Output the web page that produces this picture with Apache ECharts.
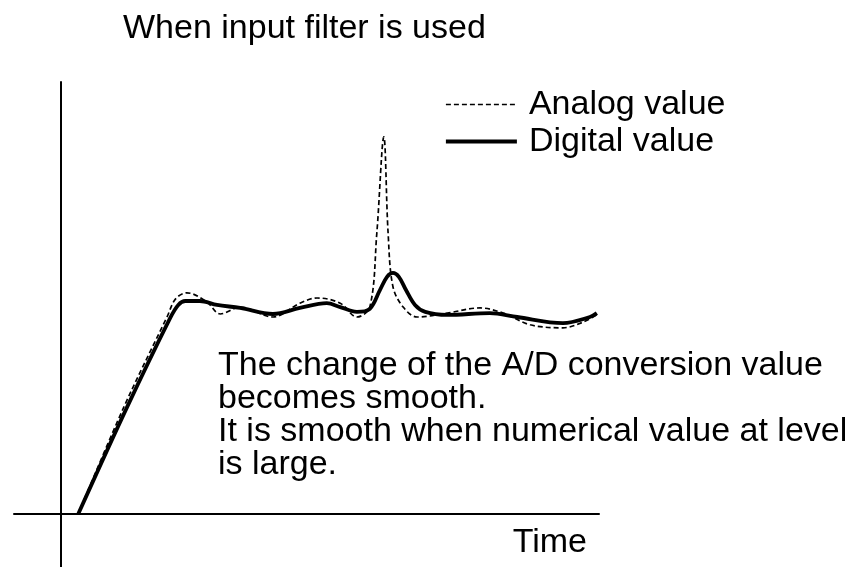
<!DOCTYPE html>
<html>
<head>
<meta charset="utf-8">
<script src="https://cdn.jsdelivr.net/npm/echarts@6/dist/echarts.min.js"></script>
<style>
  html, body { margin: 0; padding: 0; background: #fff; }
  #chart { width: 855px; height: 567px; }
</style>
</head>
<body>
<div id="chart"></div>
<script>
// time axis 0..100, level axis 0..100 (arbitrary units)
var seriesNames = ['Analog value', 'Digital value'];

var analogValue = [
  [3.2, 0], [11.7, 24.8], [19.7, 45.6], [21.3, 49.8],
  [23.4, 51.2], [27.1, 49.1], [29.6, 46.3], [33.3, 47.9], [39.4, 45.6], [44.4, 48.8],
  [47.6, 50.0], [51.9, 48.8], [55.0, 45.6], [57.4, 47.9], [58.7, 65.0], [60.0, 87.3],
  [60.8, 65.0], [61.7, 52.6], [63.6, 47.9], [66.2, 45.6], [71.8, 46.5], [77.9, 47.7],
  [82.2, 46.5], [87.2, 43.8], [93.3, 43.1], [97.0, 44.4], [99.6, 46.1]
];

var digitalValue = [
  [3.2, 0], [12.3, 24.8], [20.3, 45.4], [21.8, 48.4], [23.1, 49.3],
  [25.8, 49.3], [29.0, 48.4], [33.3, 47.7], [39.4, 46.3], [44.4, 47.7], [49.4, 48.8],
  [51.9, 47.9], [55.0, 46.8], [57.4, 47.5], [59.3, 51.9], [60.6, 54.9], [61.7, 55.8],
  [62.8, 54.9], [64.1, 51.9], [65.8, 48.4], [67.7, 46.8],
  [71.8, 46.1], [79.7, 46.5], [84.8, 45.6], [93.3, 44.2], [98.3, 45.6], [99.6, 46.5]
];

var titleText = 'When input filter is used';
var noteText = 'The change of the A/D conversion value\nbecomes smooth.\nIt is smooth when numerical value at level\nis large.';
var xName = 'Time';

var font = 'Liberation Sans';
var dashWidth = 1.7;
var solidWidth = 3.8;

var chart = echarts.init(document.getElementById('chart'));
var option = {
  animation: false,
  backgroundColor: '#fff',
  title: {
    text: titleText,
    left: 123,
    top: 12,
    padding: 0,
    textStyle: { fontFamily: font, fontSize: 34, fontWeight: 'normal', color: '#000' }
  },
  legend: {
    orient: 'vertical',
    left: 444,
    top: 86,
    padding: 0,
    itemGap: 0,
    itemWidth: 71,
    itemHeight: 14,
    itemStyle: { opacity: 0 },
    data: [
      { name: seriesNames[0], lineStyle: { width: dashWidth } },
      { name: seriesNames[1], lineStyle: { width: solidWidth } }
    ],
    textStyle: {
      fontFamily: font, fontSize: 34, color: '#000', lineHeight: 37,
      padding: [0, 0, 0, 7]
    }
  },
  grid: { left: 14, right: 256, top: 82, bottom: 0, containLabel: false },
  xAxis: {
    type: 'value',
    min: -8.74,
    max: 100,
    name: xName,
    nameLocation: 'end',
    nameGap: -12,
    nameTextStyle: {
      fontFamily: font, fontSize: 34, color: '#000',
      align: 'right', verticalAlign: 'top', padding: [12, 0, 0, 0]
    },
    axisLine: { onZero: true, lineStyle: { color: '#000', width: 2 } },
    axisTick: { show: false },
    axisLabel: { show: false },
    splitLine: { show: false }
  },
  yAxis: {
    type: 'value',
    min: -12.27,
    max: 100,
    axisLine: { show: true, onZero: true, lineStyle: { color: '#000', width: 2 } },
    axisTick: { show: false },
    axisLabel: { show: false },
    splitLine: { show: false }
  },
  graphic: [{
    type: 'text',
    left: 218,
    top: 349,
    style: {
      text: noteText,
      font: '34px "Liberation Sans"',
      lineHeight: 33,
      fill: '#000'
    }
  }],
  series: [
    {
      name: seriesNames[0],
      type: 'line',
      data: analogValue,
      smooth: 0.35,
      symbol: 'none',
      lineStyle: { color: '#000', width: dashWidth, type: [5, 3] },
      itemStyle: { color: '#000' },
      z: 3
    },
    {
      name: seriesNames[1],
      type: 'line',
      data: digitalValue,
      smooth: 0.35,
      symbol: 'none',
      lineStyle: { color: '#000', width: solidWidth },
      itemStyle: { color: '#000' },
      z: 2
    }
  ]
};
chart.setOption(option);
</script>
</body>
</html>
